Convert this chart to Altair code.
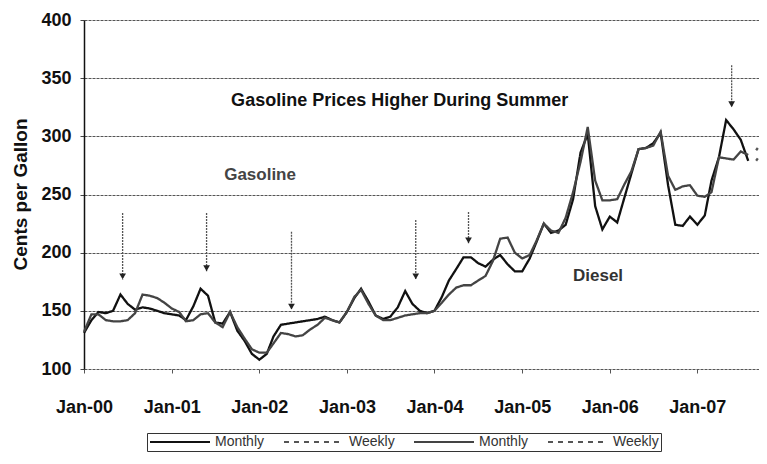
import altair as alt
import pandas as pd

# ---------------- data (cents per gallon) ----------------
month_starts = pd.date_range("2000-01-01", "2007-08-01", freq="MS").strftime("%Y-%m-%d").tolist()

gas_2000 = [131, 142, 149, 148, 150, 164, 156, 151, 153, 152, 150, 148]
gas_2001 = [147, 146, 142, 154, 169, 163, 140, 139, 149, 133, 124, 113]
gas_2002 = [108, 113, 128, 138, 139, 140, 141, 142, 143, 145, 142, 140]
gas_2003 = [149, 161, 169, 158, 146, 143, 145, 153, 167, 156, 150, 148]
gas_2004 = [150, 162, 176, 186, 196, 196, 191, 188, 194, 198, 190, 184]
gas_2005 = [184, 195, 209, 225, 217, 219, 224, 246, 286, 302, 240, 220]
gas_2006 = [231, 226, 246, 268, 289, 290, 294, 303, 258, 224, 223, 231]
gas_2007 = [224, 232, 262, 282, 314, 306, 297, 279]

dsl_2000 = [132, 147, 147, 142, 141, 141, 142, 148, 164, 163, 161, 157]
dsl_2001 = [152, 149, 141, 142, 147, 148, 140, 136, 149, 136, 126, 117]
dsl_2002 = [114, 114, 122, 131, 130, 128, 129, 134, 138, 144, 142, 140]
dsl_2003 = [149, 162, 168, 156, 146, 142, 142, 144, 146, 147, 148, 148]
dsl_2004 = [150, 157, 164, 170, 172, 172, 176, 180, 193, 212, 213, 200]
dsl_2005 = [195, 198, 210, 225, 219, 217, 230, 252, 278, 308, 262, 245]
dsl_2006 = [245, 246, 258, 270, 289, 290, 292, 304, 266, 254, 257, 258]
dsl_2007 = [249, 248, 252, 282, 281, 280, 287, 284]

gasoline_monthly = gas_2000 + gas_2001 + gas_2002 + gas_2003 + gas_2004 + gas_2005 + gas_2006 + gas_2007
diesel_monthly = dsl_2000 + dsl_2001 + dsl_2002 + dsl_2003 + dsl_2004 + dsl_2005 + dsl_2006 + dsl_2007

weekly_dates = ["2007-09-03", "2007-09-10"]
gasoline_weekly = [279, 281]
diesel_weekly = [288, 290]

series_names = ["Gasoline Monthly", "Gasoline Weekly", "Diesel Monthly", "Diesel Weekly"]

arrow_dates = ["2000-06-10", "2001-05-26", "2002-05-15", "2003-10-15", "2004-05-22", "2007-05-24"]
arrow_tops = [234, 234, 218, 228, 235, 361]
arrow_bottoms = [177, 184, 151, 177, 208, 325]

note_texts = ["Gasoline Prices Higher During Summer", "Gasoline", "Diesel"]
note_dates = ["2003-08-09", "2002-01-04", "2005-11-13"]
note_values = [330, 267, 180]

year_ticks = [2000, 2001, 2002, 2003, 2004, 2005, 2006, 2007]
y_ticks = [100, 150, 200, 250, 300, 350, 400]

# ---------------- tables ----------------
rows = []
for d, v in zip(month_starts, gasoline_monthly):
    rows.append({"date": d, "value": v, "series": series_names[0]})
for d, v in zip(weekly_dates, gasoline_weekly):
    rows.append({"date": d, "value": v, "series": series_names[1]})
for d, v in zip(month_starts, diesel_monthly):
    rows.append({"date": d, "value": v, "series": series_names[2]})
for d, v in zip(weekly_dates, diesel_weekly):
    rows.append({"date": d, "value": v, "series": series_names[3]})
df = pd.DataFrame(rows)

arrows = pd.DataFrame({"date": arrow_dates, "top": arrow_tops, "bottom": arrow_bottoms})
notes = pd.DataFrame({"date": note_dates, "value": note_values, "label": note_texts})

FONT = "Liberation Sans"
YTITLE = "Cents per Gallon"

x_scale = alt.Scale(
    type="utc",
    domain=[alt.DateTime(year=2000, month=1, date=1, utc=True),
            alt.DateTime(year=2007, month=9, date=15, utc=True)],
)
y_scale = alt.Scale(domain=[100, 400], nice=False, zero=False)

legend = alt.Legend(
    title=None, orient="none", legendX=63, legendY=413, direction="horizontal", columns=4,
    symbolType="stroke", symbolSize=3600, symbolStrokeWidth=2, clipHeight=14,
    labelFont=FONT, labelFontSize=14, labelColor="#333", labelOffset=4, columnPadding=18,
    strokeColor="#333", padding=2, fillColor="white",
    labelExpr="split(datum.label, ' ')[1]",
)

lines = alt.Chart(df).mark_line(strokeWidth=2.3).encode(
    x=alt.X("date:T", scale=x_scale, title=None,
            axis=alt.Axis(values=[alt.DateTime(year=y, month=1, date=1, utc=True) for y in year_ticks],
                          format="%b-%y", labelFont=FONT, labelFontSize=18, labelFontWeight="bold",
                          labelColor="#111", labelPadding=25, labelFlush=False, labelOverlap=False,
                          tickSize=4, tickColor="#555", domain=False, grid=False)),
    y=alt.Y("value:Q", scale=y_scale, title=YTITLE,
            axis=alt.Axis(values=y_ticks, titleFont=FONT, titleFontSize=19, titleFontWeight="bold",
                          titleColor="#111", titleX=-64, titleY=174, titleAngle=270,
                          titleAlign="center", titleBaseline="middle",
                          labelFont=FONT, labelFontSize=18, labelFontWeight="bold", labelColor="#111",
                          labelPadding=9, tickSize=4, tickColor="#444",
                          domainColor="#111", domainWidth=1.5,
                          grid=True, gridColor="#555", gridDash=[3, 1], gridWidth=1)),
    color=alt.Color("series:N", scale=alt.Scale(domain=series_names,
                                                range=["#111111", "#555555", "#444444", "#555555"]),
                    legend=legend),
    strokeDash=alt.StrokeDash("series:N", scale=alt.Scale(domain=series_names,
                                                          range=[[1, 0], [5, 5], [1, 0], [5, 5]]),
                              legend=legend),
)

arrow_shafts = alt.Chart(arrows).mark_rule(color="#555", strokeWidth=1.3, strokeDash=[2, 1]).encode(
    x=alt.X("date:T", scale=x_scale),
    y=alt.Y("top:Q", scale=y_scale, title=YTITLE),
    y2="bottom:Q",
)
arrow_heads = alt.Chart(arrows).mark_point(shape="triangle-down", filled=True, size=45,
                                           color="#222", opacity=1, yOffset=-3).encode(
    x=alt.X("date:T", scale=x_scale),
    y=alt.Y("bottom:Q", scale=y_scale, title=YTITLE),
)

def note(i, size, weight, color):
    return alt.Chart(notes.iloc[[i]]).mark_text(
        font=FONT, fontSize=size, fontWeight=weight, color=color, align="center", baseline="middle"
    ).encode(
        x=alt.X("date:T", scale=x_scale),
        y=alt.Y("value:Q", scale=y_scale, title=YTITLE),
        text="label:N",
    )

chart = alt.layer(
    lines, arrow_shafts, arrow_heads,
    note(0, 18, "bold", "#111"),
    note(1, 17, "bold", "#444"),
    note(2, 17, "bold", "#333"),
).properties(
    width=675, height=349,
    autosize=alt.AutoSizeParams(type="none"),
    padding={"left": 76, "top": 12, "right": 0, "bottom": 83},
).configure_view(stroke=None)

chart.save("out.html", embed_options={"renderer": "svg", "actions": False})
